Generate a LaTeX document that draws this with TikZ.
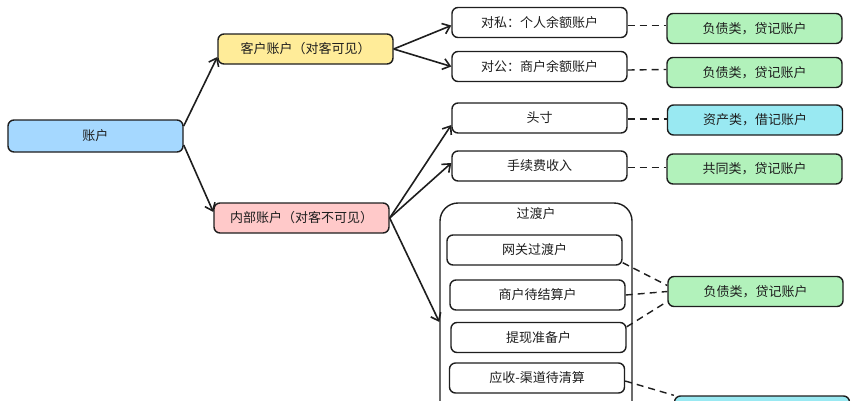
\documentclass[tikz,border=0pt]{standalone}
\usepackage{fontspec}
\setmainfont{Noto Sans CJK SC}
\usepackage{xcolor}
\usepackage{tikz}
\usetikzlibrary{shapes.geometric, arrows.meta}
\definecolor{inkgray}{HTML}{1E1E1E}
\definecolor{acctblue}{HTML}{A5D8FF}
\definecolor{custyellow}{HTML}{FFEC99}
\definecolor{internpink}{HTML}{FFC9C9}
\definecolor{liabgreen}{HTML}{B2F2BB}
\definecolor{assetcyan}{HTML}{99E9F2}
\tikzstyle{box} = [rectangle, rounded corners=6pt, minimum width=175pt, minimum height=30pt, text centered, draw=inkgray, text=inkgray, line width=1.4pt, font=\fontsize{13pt}{15pt}\selectfont]
\tikzstyle{root} = [box, fill=acctblue, minimum height=32pt]
\tikzstyle{cust} = [box, fill=custyellow]
\tikzstyle{intern} = [box, fill=internpink]
\tikzstyle{sub} = [box, fill=white]
\tikzstyle{liab} = [box, fill=liabgreen]
\tikzstyle{asset} = [box, fill=assetcyan]
\tikzstyle{transit} = [rectangle, rounded corners=18pt, minimum width=192pt, minimum height=234pt, draw=inkgray, fill=white, line width=1.4pt]
\tikzstyle{heading} = [text=inkgray, font=\fontsize{13pt}{15pt}\selectfont]
\tikzstyle{arrow} = [line width=1.6pt, draw=inkgray, ->, >={Straight Barb[length=7pt, width=11pt]}]
\tikzstyle{link} = [line width=1.4pt, draw=inkgray, dash pattern=on 7pt off 5pt]

\begin{document}
\begin{tikzpicture}[node distance=44pt]
		\useasboundingbox (-95.5pt,136pt) rectangle (762.5pt,-264pt);
		
		\node (Acct) [root] {账户};
		\node (Cust) [cust, right of=Acct, xshift=166pt, yshift=87pt] {客户账户（对客可见）};
		\node (Intern) [intern, right of=Acct, xshift=162pt, yshift=-82pt] {内部账户（对客不可见）};
		\node (Priv) [sub, right of=Cust, xshift=190pt, yshift=26.5pt] {对私：个人余额账户};
		\node (Corp) [sub, below of=Priv] {对公：商户余额账户};
		\node (Pos) [sub, below of=Corp, yshift=-7.5pt] {头寸};
		\node (Fee) [sub, below of=Pos, yshift=-4pt] {手续费收入};
		\node (Trans) [transit, below of=Fee, xshift=-3.5pt, yshift=-110pt] {};
		\node (TransTitle) [heading, anchor=north, yshift=-2pt] at (Trans.north) {过渡户};
		\node (Gate) [sub, below of=Fee, xshift=-5pt, yshift=-40pt] {网关过渡户};
		\node (Settle) [sub, below of=Gate, xshift=3pt, yshift=-1pt] {商户待结算户};
		\node (Withdraw) [sub, below of=Settle, xshift=1pt, yshift=1.5pt] {提现准备户};
		\node (Recv) [sub, below of=Withdraw, xshift=-1.5pt, yshift=3.5pt] {应收-渠道待清算};
		\node (Liab1) [liab, right of=Priv, xshift=171pt, yshift=-6pt] {负债类，贷记账户};
		\node (Liab2) [liab, below of=Liab1] {负债类，贷记账户};
		\node (Asset1) [asset, right of=Pos, xshift=171.5pt, yshift=-2pt] {资产类，借记账户};
		\node (Common) [liab, right of=Fee, xshift=171pt, yshift=-3pt] {共同类，贷记账户};
		\node (Liab3) [liab, right of=Settle, xshift=174pt, yshift=3.5pt] {负债类，贷记账户};
		\node (Asset2) [asset, right of=Recv, xshift=181pt, yshift=-33pt] {};
		
		
		\draw [arrow] ([yshift=10pt]Acct.east) -- ([yshift=-8pt]Cust.west);
		\draw [arrow] ([yshift=-9pt]Acct.east) -- ([yshift=6pt]Intern.west);
		\draw [arrow] (Cust.east) -- ([yshift=-3pt]Priv.west);
		\draw [arrow] (Cust.east) -- (Corp.west);
		\draw [arrow] (Intern.east) -- ([yshift=-7pt]Pos.west);
		\draw [arrow] (Intern.east) -- ([yshift=3pt]Fee.west);
		\draw [arrow] (Intern.east) -- ([yshift=-2pt]Trans.west);
		\draw [link] ([yshift=-3pt]Priv.east) -- ([yshift=3pt]Liab1.west);
		\draw [link] ([yshift=-3.5pt]Corp.east) -- ([yshift=3pt]Liab2.west);
		\draw [link] ([yshift=-1pt]Pos.east) -- ([yshift=1pt]Asset1.west);
		\draw [link] ([yshift=-1.5pt]Fee.east) -- ([yshift=1.5pt]Common.west);
		\draw [link] ([yshift=3pt]Gate.south east) -- ([yshift=6pt]Liab3.west);
		\draw [link] (Settle.east) -- (Liab3.west);
		\draw [link] ([yshift=-5pt]Withdraw.north east) -- ([yshift=-10pt]Liab3.west);
		\draw [link] ([yshift=-3pt]Recv.east) -- (Asset2.north west);
	\end{tikzpicture}
\end{document}
